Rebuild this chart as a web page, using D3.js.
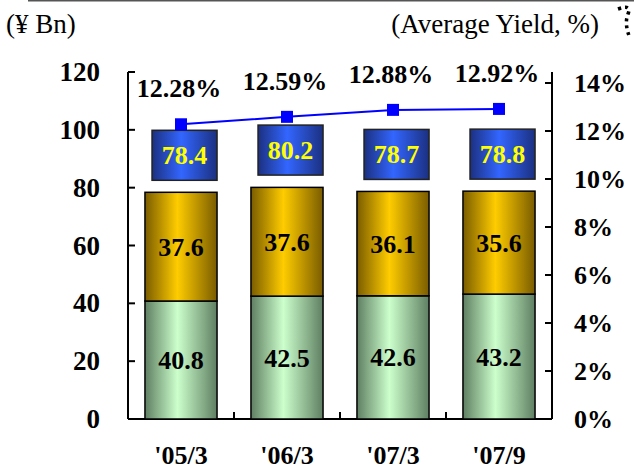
<!DOCTYPE html>
<html>
<head>
<meta charset="utf-8">
<script src="https://cdn.jsdelivr.net/npm/d3@7"></script>
<style>
  body { margin: 0; background: #fff; }
  svg { display: block; }
</style>
</head>
<body>
<div id="chart"></div>
<script>
// data
const categories = ["'05/3", "'06/3", "'07/3", "'07/9"];
const lowerValues = [40.8, 42.5, 42.6, 43.2];
const upperValues = [37.6, 37.6, 36.1, 35.6];
const totalValues = [78.4, 80.2, 78.7, 78.8];
const yieldValues = [12.28, 12.59, 12.88, 12.92];
const leftTicks = [0, 20, 40, 60, 80, 100, 120];
const rightTicks = [0, 2, 4, 6, 8, 10, 12, 14];

const width = 634, height = 470;
const plot = {left: 128, right: 552, bottom: 419, top: 72};
const serif = "'Liberation Serif', Tinos, 'Times New Roman', Times, 'DejaVu Serif', serif";

const svg = d3.select("#chart").append("svg")
    .attr("width", width)
    .attr("height", height)
    .attr("font-family", serif)
    .style("font-family", serif);

const defs = svg.append("defs");
function addGradient(id, dark, light) {
    const g = defs.append("linearGradient")
        .attr("id", id)
        .attr("x1", "0").attr("x2", "1").attr("y1", "0").attr("y2", "0");
    g.append("stop").attr("offset", "0").attr("stop-color", dark);
    g.append("stop").attr("offset", "0.45").attr("stop-color", light);
    g.append("stop").attr("offset", "1").attr("stop-color", dark);
}
addGradient("gGreen", "#5f7f62", "#ccffcc");
addGradient("gGold", "#7a5c00", "#ffcc00");
addGradient("gBlue", "#1b3080", "#3366ff");

const xScale = d3.scaleBand().domain(categories).range([plot.left, plot.right]).paddingInner(0.32).paddingOuter(0.16);
const yScale = d3.scaleLinear().domain([0, 120]).range([plot.bottom, plot.top]);
const yRight = d3.scaleLinear().domain([0, 14]).range([plot.bottom, 83]);
const bandStep = (plot.right - plot.left) / categories.length;

// header
svg.append("line")
    .attr("x1", 28).attr("x2", width).attr("y1", 0.5).attr("y2", 0.5)
    .attr("stroke", "#555").attr("stroke-width", 2);
svg.append("text").attr("x", 6).attr("y", 33)
    .attr("font-size", 27).text("(¥ Bn)");
svg.append("text").attr("x", 599).attr("y", 33)
    .attr("font-size", 27).attr("text-anchor", "end").text("(Average Yield, %)");
svg.append("path")
    .attr("d", "M618,9 Q632,4 628,14 Q624,24 630,38")
    .attr("fill", "none").attr("stroke", "#000").attr("stroke-width", 3.5)
    .attr("stroke-dasharray", "3,4");

// axes
const axisG = svg.append("g").attr("stroke", "#000").attr("stroke-width", 2);
axisG.append("line").attr("x1", plot.left).attr("x2", plot.left).attr("y1", plot.top).attr("y2", plot.bottom);
axisG.append("line").attr("x1", plot.right).attr("x2", plot.right).attr("y1", plot.top).attr("y2", plot.bottom);
axisG.append("line").attr("x1", plot.left).attr("x2", plot.right).attr("y1", plot.bottom).attr("y2", plot.bottom);
axisG.selectAll(".lt").data(leftTicks).join("line")
    .attr("x1", plot.left).attr("x2", plot.left + 7)
    .attr("y1", d => yScale(d)).attr("y2", d => yScale(d));
axisG.selectAll(".rt").data(rightTicks).join("line")
    .attr("x1", plot.right - 7).attr("x2", plot.right)
    .attr("y1", d => yRight(d)).attr("y2", d => yRight(d));
axisG.selectAll(".bt").data(d3.range(1, categories.length)).join("line")
    .attr("x1", i => plot.left + i * bandStep).attr("x2", i => plot.left + i * bandStep)
    .attr("y1", plot.bottom).attr("y2", plot.bottom - 7);

svg.selectAll(".ltl").data(leftTicks).join("text")
    .attr("x", 100).attr("y", d => yScale(d) + 9)
    .attr("text-anchor", "end").attr("font-size", 27).attr("font-weight", "bold")
    .text(d => d);
svg.selectAll(".rtl").data(rightTicks).join("text")
    .attr("x", 574).attr("y", d => yRight(d) + 9)
    .attr("font-size", 26).attr("font-weight", "bold")
    .text(d => d + "%");
svg.selectAll(".cat").data(categories).join("text")
    .attr("x", d => xScale(d) + xScale.bandwidth() / 2).attr("y", 464)
    .attr("text-anchor", "middle").attr("font-size", 26).attr("font-weight", "bold")
    .text(d => d);

// stacked bars
const bw = xScale.bandwidth();
const barG = svg.append("g");
categories.forEach((c, i) => {
    const x = xScale(c);
    const y0 = yScale(0), y1 = yScale(lowerValues[i]), y2 = yScale(lowerValues[i] + upperValues[i]);
    barG.append("rect").attr("x", x).attr("y", y1).attr("width", bw).attr("height", y0 - y1)
        .attr("fill", "url(#gGreen)").attr("stroke", "#000").attr("stroke-width", 1.5);
    barG.append("rect").attr("x", x).attr("y", y2).attr("width", bw).attr("height", y1 - y2)
        .attr("fill", "url(#gGold)").attr("stroke", "#000").attr("stroke-width", 1.5);
    barG.append("text").attr("x", x + bw / 2).attr("y", (y0 + y1) / 2 + 9)
        .attr("text-anchor", "middle").attr("font-size", 26).attr("font-weight", "bold")
        .text(lowerValues[i].toFixed(1));
    barG.append("text").attr("x", x + bw / 2).attr("y", (y1 + y2) / 2 + 9)
        .attr("text-anchor", "middle").attr("font-size", 26).attr("font-weight", "bold")
        .text(upperValues[i].toFixed(1));

    // total box above the bar
    const boxW = 65, boxH = 50;
    const yt = yScale(totalValues[i]);
    const bx = x + bw - boxW, by = yt - 12 - boxH;
    barG.append("rect").attr("x", bx).attr("y", by).attr("width", boxW).attr("height", boxH)
        .attr("fill", "url(#gBlue)").attr("stroke", "#222").attr("stroke-width", 1.5);
    barG.append("text").attr("x", bx + boxW / 2).attr("y", by + boxH / 2 + 9)
        .attr("text-anchor", "middle").attr("font-size", 26).attr("font-weight", "bold")
        .attr("fill", "#ffff00")
        .text(totalValues[i].toFixed(1));
});

// yield line
const cx = c => xScale(c) + bw / 2;
const line = d3.line().x((d, i) => cx(categories[i])).y(d => yRight(d));
svg.append("path").datum(yieldValues)
    .attr("d", line).attr("fill", "none").attr("stroke", "#0000ff").attr("stroke-width", 2);
svg.selectAll(".mk").data(yieldValues).join("rect")
    .attr("x", (d, i) => cx(categories[i]) - 6).attr("y", d => yRight(d) - 6)
    .attr("width", 12).attr("height", 12).attr("fill", "#0000ff");
svg.selectAll(".yl").data(yieldValues).join("text")
    .attr("x", (d, i) => cx(categories[i]) - 2).attr("y", d => yRight(d) - 27)
    .attr("text-anchor", "middle").attr("font-size", 26).attr("font-weight", "bold")
    .text(d => d.toFixed(2) + "%");
</script>
</body>
</html>
